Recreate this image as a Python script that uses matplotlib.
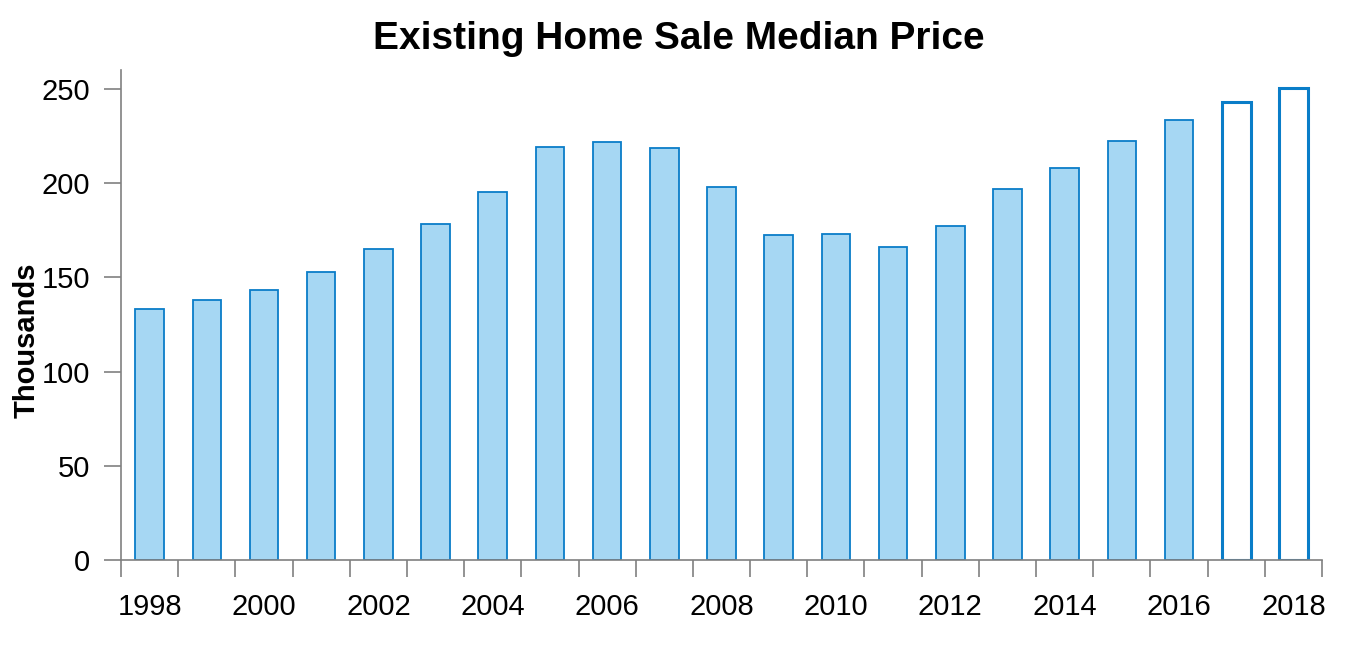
import matplotlib.pyplot as plt
import numpy as np

years = list(range(1998, 2019))
prices = [133, 138, 143.5, 153, 165, 178.5, 195.5, 219.3, 222, 218.8, 198,
          172.2, 172.8, 166, 177, 197, 208, 222.3, 233.4, 242.8, 250.7]
forecast = [False] * 19 + [True, True]

plt.rcParams['font.family'] = ['Liberation Sans', 'DejaVu Sans']

fig = plt.figure(figsize=(13.57, 6.56), dpi=100)
ax = fig.add_axes([0.0892, 0.1463, 0.8850, 0.7470])

x = np.arange(len(years))
fill_col = '#a6d7f3'
edge_col = '#0a7dc8'
for xi, val, fc in zip(x, prices, forecast):
    if fc:
        ax.bar(xi, val, width=0.5, facecolor='white', edgecolor=edge_col, linewidth=2.2)
    else:
        ax.bar(xi, val, width=0.5, facecolor=fill_col, edgecolor=edge_col, linewidth=1.3)

ax.set_xlim(-0.5, len(years) - 0.5)
ax.set_ylim(0, 260)

grey = '#808080'
for s in ['top', 'right']:
    ax.spines[s].set_visible(False)
for s in ['left', 'bottom']:
    ax.spines[s].set_color(grey)
    ax.spines[s].set_linewidth(1.2)

# major ticks at category boundaries, labels on every other bar center
ax.set_xticks(np.arange(-0.5, len(years), 1.0))
ax.set_xticklabels([])
ax.set_xticks(x[::2], minor=True)
ax.set_xticklabels([str(y) for y in years[::2]], minor=True, fontsize=21)
ax.tick_params(axis='x', which='major', direction='out', length=12, width=1.2, color=grey)
ax.tick_params(axis='x', which='minor', length=0, pad=24)

ax.set_yticks([0, 50, 100, 150, 200, 250])
ax.tick_params(axis='y', direction='out', length=12, width=1.2, color=grey, labelsize=21, pad=10)

ax.set_ylabel('Thousands', fontsize=21, fontweight='bold')
ax.yaxis.set_label_coords(-0.067, 0.449)

fig.text(0.5, 0.94, 'Existing Home Sale Median Price', ha='center', va='center',
         fontsize=28, fontweight='bold')

fig.savefig('out.png', dpi=100)
